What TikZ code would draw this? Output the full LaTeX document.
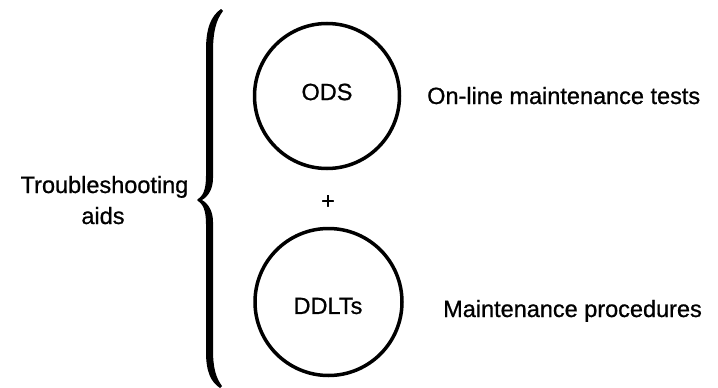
\documentclass[tikz,border=0pt]{standalone}
\usepackage{fontspec}
\setmainfont{Liberation Sans}[FakeBold=0.8]
\begin{document}
\begin{tikzpicture}[x=1pt,y=-1pt,
  lbl/.style={font=\fontsize{23.5}{31}\selectfont, inner sep=0pt},
  ring/.style={circle, draw, line width=3.5pt, inner sep=0pt}]
\useasboundingbox (0,0) rectangle (718,388);
% brace
\fill (221,9) .. controls (211,16) and (206,28) .. (206,50)
  -- (206,176) .. controls (206,190) and (203,196) .. (197,200)
  .. controls (203,204) and (206,210) .. (206,224)
  -- (206,352) .. controls (206,372) and (211,382) .. (220,388)
  -- (222,386) .. controls (216,378) and (213,368) .. (213,350)
  -- (213,222) .. controls (213,212) and (209,204) .. (202,200)
  .. controls (209,196) and (213,188) .. (213,178)
  -- (213,52) .. controls (213,32) and (216,20) .. (223,11) -- cycle;
\node[ring, minimum size=145pt] (ods) at (327,96) {};
\node[ring, minimum size=147pt] (ddlt) at (328.5,302) {};
\node[lbl] (odst) at (327,92) {ODS};
\node[lbl] (ddltt) at (328,306) {DDLTs};
\node[lbl] (plus) at (328,202) {+};
\node[lbl, anchor=base west] (olt) at (427,104) {On-line maintenance tests};
\node[lbl, anchor=base west] (mp) at (443,317) {Maintenance procedures};
\node[lbl, anchor=base] (ts) at (104.5,193) {Troubleshooting};
\node[lbl, anchor=base] (aids) at (103,224) {aids};
\end{tikzpicture}
\end{document}
